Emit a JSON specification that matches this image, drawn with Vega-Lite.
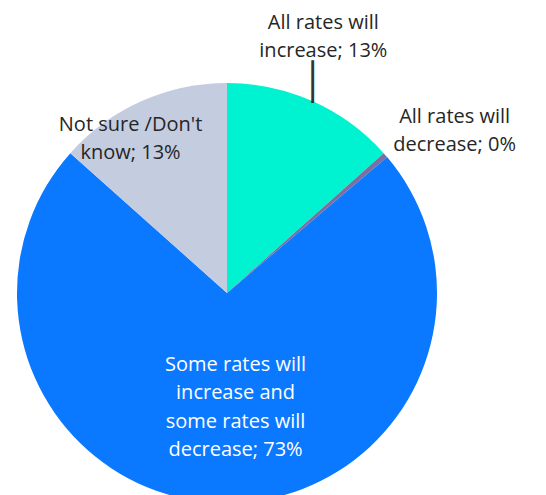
{
  "$schema": "https://vega.github.io/schema/vega-lite/v6.json",
  "autosize": {"type": "none"},
  "width": 420,
  "height": 400,
  "padding": {"left": 17, "top": 93, "right": 109, "bottom": 2},
  "background": "white",
  "config": {"view": {"stroke": null}},
  "data": {
    "values": [
      {"category": "All rates will increase", "value": 13.4, "rank": 1, "label": "All rates will\nincrease; 13%"},
      {"category": "All rates will decrease", "value": 0.4, "rank": 2, "label": "All rates will\ndecrease; 0%"},
      {"category": "Some rates will increase and some rates will decrease", "value": 72.8, "rank": 3, "label": "Some rates will\nincrease and\nsome rates will\ndecrease; 73%"},
      {"category": "Not sure /Don't know", "value": 13.4, "rank": 4, "label": "Not sure /Don't\nknow; 13%"}
    ]
  },
  "encoding": {
    "theta": {"field": "value", "type": "quantitative", "stack": true},
    "order": {"field": "rank", "type": "quantitative"}
  },
  "layer": [
    {
      "mark": {"type": "arc", "radius": 210},
      "encoding": {
        "color": {
          "field": "category",
          "type": "nominal",
          "legend": null,
          "scale": {
            "domain": ["All rates will increase", "All rates will decrease", "Some rates will increase and some rates will decrease", "Not sure /Don't know"],
            "range": ["#00F3D0", "#7A6FA0", "#0A79FF", "#C4CCE0"]
          }
        }
      }
    },
    {
      "mark": {"type": "text", "radius": 270, "dx": -14, "dy": -24, "font": "Open Sans", "fontSize": 20, "lineBreak": "\n", "lineHeight": 28, "fill": "#262626", "align": "center", "baseline": "middle"},
      "encoding": {"text": {"condition": {"test": "datum.rank === 1", "field": "label"}, "value": ""}}
    },
    {
      "mark": {"type": "text", "radius": 215, "dx": -2, "dy": -14, "font": "DejaVu Sans", "fontSize": 36, "fill": "#333333", "align": "center", "baseline": "middle"},
      "encoding": {"text": {"condition": {"test": "datum.rank === 1", "value": "│"}, "value": ""}}
    },
    {
      "mark": {"type": "text", "radius": 270, "dx": 24, "dy": 1, "font": "Open Sans", "fontSize": 20, "lineBreak": "\n", "lineHeight": 28, "fill": "#262626", "align": "center", "baseline": "middle"},
      "encoding": {"text": {"condition": {"test": "datum.rank === 2", "field": "label"}, "value": ""}}
    },
    {
      "mark": {"type": "text", "radius": 115, "dx": 10, "dy": -43, "font": "Open Sans", "fontSize": 20, "lineBreak": "\n", "lineHeight": 28.5, "fill": "#FFFFFF", "align": "center", "baseline": "middle"},
      "encoding": {"text": {"condition": {"test": "datum.rank === 3", "field": "label"}, "value": ""}}
    },
    {
      "mark": {"type": "text", "radius": 170, "dx": -27, "dy": -13, "font": "Open Sans", "fontSize": 20, "lineBreak": "\n", "lineHeight": 28, "fill": "#262626", "align": "center", "baseline": "middle"},
      "encoding": {"text": {"condition": {"test": "datum.rank === 4", "field": "label"}, "value": ""}}
    }
  ]
}
